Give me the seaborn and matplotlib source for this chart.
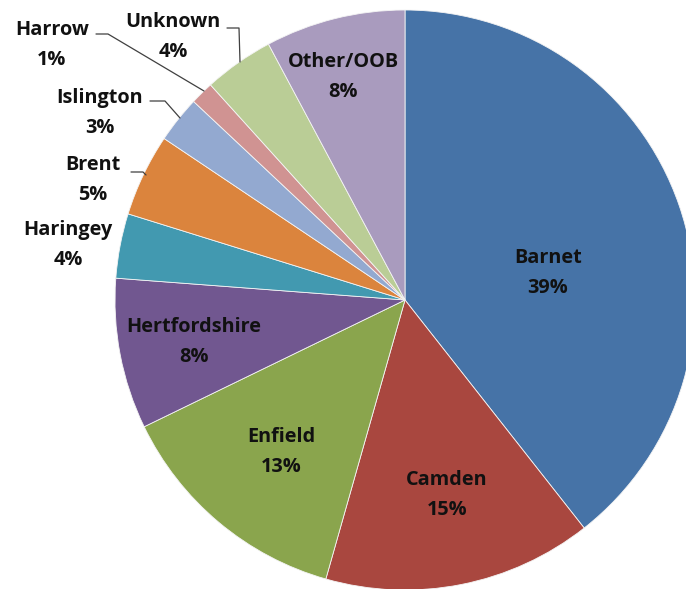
import matplotlib
matplotlib.use("Agg")
import matplotlib.pyplot as plt
import seaborn as sns

# ---- data ----
categories = ["Barnet", "Camden", "Enfield", "Hertfordshire", "Haringey",
              "Brent", "Islington", "Harrow", "Unknown", "Other/OOB"]
shares = [39.4, 15.0, 13.4, 8.4, 3.6, 4.6, 2.6, 1.3, 3.9, 7.8]
colors = ["#4673A7", "#A9473F", "#8AA54D", "#715790", "#4299B0",
          "#DB843D", "#93A9D0", "#D09392", "#BACD96", "#A99BBE"]

sns.set_theme(style="white")
plt.rcParams["font.family"] = ["Open Sans", "DejaVu Sans"]

W, H = 686, 589
fig = plt.figure(figsize=(W / 100, H / 100), dpi=100)
ax = fig.add_axes([0, 0, 1, 1])
cx, cy, R = 405, 300, 290          # pixel layout of the pie
ax.set_xlim(-cx, W - cx)
ax.set_ylim(-(H - cy), cy)
ax.set_aspect("equal")
ax.axis("off")

wedges, _ = ax.pie(shares, colors=colors, startangle=90, counterclock=False,
                   radius=R, center=(0, 0), normalize=True,
                   wedgeprops=dict(edgecolor="#f4f4f4", linewidth=0.6))
ax.set_xlim(-cx, W - cx)
ax.set_ylim(-(H - cy), cy)

# label layout (pixel coords in image, y down): center of label block
label_pos = {
    "Barnet": (548, 273), "Camden": (447, 495), "Enfield": (281, 452),
    "Hertfordshire": (194, 342), "Other/OOB": (343, 77),
    "Haringey": (68, 245), "Brent": (93, 180), "Islington": (100, 113),
    "Harrow": (52, 45), "Unknown": (173, 37),
}

def to_data(px, py):
    return px - cx, cy - py

for name, val in zip(categories, shares):
    x, y = to_data(*label_pos[name])
    ax.text(x, y, f"{name}\n{round(val):d}%", ha="center", va="center",
            fontsize=14.3, fontweight="bold", color="#111111", linespacing=1.7)

# leader lines for outside labels (image pixel coords)
leaders = {
    "Brent": [(131, 172), (143, 172), (146, 175)],
    "Islington": [(150, 101), (165, 101), (180, 118)],
    "Harrow": [(96, 34), (108, 34), (204, 91)],
    "Unknown": [(227, 28), (239, 28), (240, 62)],
}
for pts in leaders.values():
    xs, ys = zip(*[to_data(*p) for p in pts])
    ax.plot(xs, ys, color="#404040", linewidth=0.9)

fig.savefig("out.png", dpi=100)
